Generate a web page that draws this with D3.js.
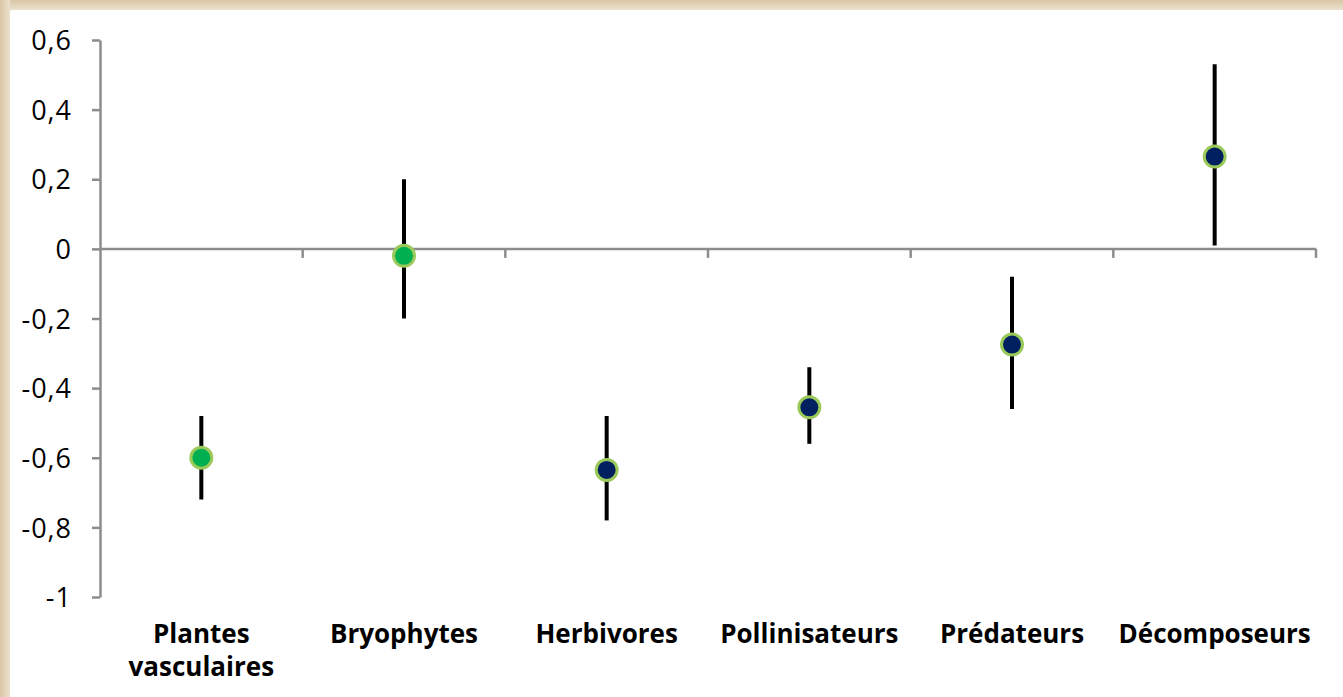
<!DOCTYPE html>
<html>
<head>
  <meta charset="utf-8">
  <script src="https://d3js.org/d3.v7.min.js"></script>
  <style>
    html, body { margin: 0; padding: 0; background: #fff; }
    svg { display: block; }
  </style>
</head>
<body>
<script>
  // values
  var categories = ["Plantes vasculaires", "Bryophytes", "Herbivores", "Pollinisateurs", "Prédateurs", "Décomposeurs"];
  var means = [-0.60, -0.02, -0.635, -0.455, -0.275, 0.265];
  var lows  = [-0.72, -0.20, -0.78, -0.56, -0.46, 0.01];
  var highs = [-0.48, 0.20, -0.48, -0.34, -0.08, 0.53];
  var groups = ["plantes", "plantes", "animaux", "animaux", "animaux", "animaux"];
  var yTicks = [0.6, 0.4, 0.2, 0, -0.2, -0.4, -0.6, -0.8, -1];

  var width = 1343, height = 697;
  var plotLeft = 100, plotRight = 1316, plotTop = 40, plotBottom = 597;

  var svg = d3.select("body").append("svg")
      .attr("width", width)
      .attr("height", height);

  // beige frame
  var defs = svg.append("defs");
  var gl = defs.append("linearGradient").attr("id", "frameL").attr("x1", 0).attr("x2", 1);
  gl.append("stop").attr("offset", 0).attr("stop-color", "#d8c6a6");
  gl.append("stop").attr("offset", 1).attr("stop-color", "#ece1cd");
  var gt = defs.append("linearGradient").attr("id", "frameT").attr("x1", 0).attr("x2", 0).attr("y1", 0).attr("y2", 1);
  gt.append("stop").attr("offset", 0).attr("stop-color", "#d8c6a6");
  gt.append("stop").attr("offset", 1).attr("stop-color", "#ece1cd");
  svg.append("rect").attr("width", width).attr("height", 10).attr("fill", "url(#frameT)");
  svg.append("rect").attr("width", 10).attr("height", height).attr("fill", "url(#frameL)");

  var x = d3.scaleBand().domain(categories).range([plotLeft, plotRight]).padding(0);
  var y = d3.scaleLinear().domain([-1, 0.6]).range([plotBottom, plotTop]);

  // y axis
  var yAxis = d3.axisLeft(y).tickValues(yTicks).tickSize(8).tickSizeOuter(0)
      .tickFormat(function (d) { return d3.format("")(d).replace(".", ",").replace("−", "-"); });
  var gy = svg.append("g").attr("transform", "translate(" + plotLeft + ",0)").call(yAxis);
  gy.selectAll("path, line").attr("stroke", "#8c8c8c").attr("stroke-width", 2.5);
  gy.selectAll("text")
      .attr("x", -28)
      .attr("dy", "0.36em")
      .attr("fill", "#000")
      .style("font-family", "'Open Sans', sans-serif")
      .style("font-size", "27px")
      .style("letter-spacing", "1px");

  // x axis at zero, ticks on band boundaries
  var gx = svg.append("g");
  gx.append("line")
      .attr("x1", plotLeft).attr("x2", plotRight)
      .attr("y1", y(0)).attr("y2", y(0))
      .attr("stroke", "#8c8c8c").attr("stroke-width", 2.5);
  var bounds = categories.map(function (c) { return x(c) + x.bandwidth(); });
  gx.selectAll("line.tick").data(bounds).enter().append("line")
      .attr("class", "tick")
      .attr("x1", function (d) { return d; }).attr("x2", function (d) { return d; })
      .attr("y1", y(0)).attr("y2", y(0) + 9)
      .attr("stroke", "#8c8c8c").attr("stroke-width", 2.5);

  // category labels
  var labels = svg.append("g").selectAll("text").data(categories).enter().append("text")
      .attr("x", function (d) { return x(d) + x.bandwidth() / 2; })
      .attr("y", 643)
      .attr("text-anchor", "middle")
      .style("font-family", "'Open Sans', sans-serif")
      .style("font-size", "26px")
      .style("font-weight", "bold")
      .attr("fill", "#000");
  labels.each(function (d) {
    var words = d === "Plantes vasculaires" ? ["Plantes", "vasculaires"] : [d];
    var t = d3.select(this);
    words.forEach(function (w, i) {
      t.append("tspan").attr("x", t.attr("x")).attr("dy", i ? 33 : 0).text(w);
    });
  });

  // error bars
  var pts = categories.map(function (c, i) {
    return { c: c, m: means[i], lo: lows[i], hi: highs[i], g: groups[i] };
  });
  svg.append("g").selectAll("line").data(pts).enter().append("line")
      .attr("x1", function (d) { return x(d.c) + x.bandwidth() / 2; })
      .attr("x2", function (d) { return x(d.c) + x.bandwidth() / 2; })
      .attr("y1", function (d) { return y(d.hi); })
      .attr("y2", function (d) { return y(d.lo); })
      .attr("stroke", "#000").attr("stroke-width", 4);

  // points
  svg.append("g").selectAll("circle").data(pts).enter().append("circle")
      .attr("cx", function (d) { return x(d.c) + x.bandwidth() / 2; })
      .attr("cy", function (d) { return y(d.m); })
      .attr("r", 10.5)
      .attr("fill", function (d) { return d.g === "plantes" ? "#00b050" : "#002060"; })
      .attr("stroke", "#9bc95a")
      .attr("stroke-width", 3);
</script>
</body>
</html>
